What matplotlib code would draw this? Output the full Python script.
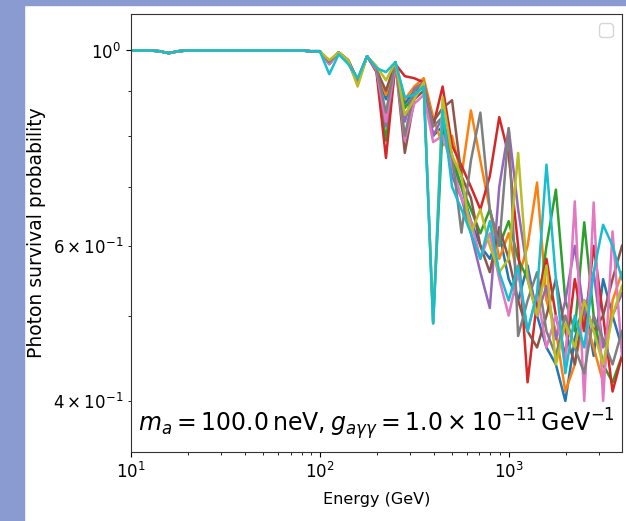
import matplotlib.pyplot as plt
from matplotlib.patches import Rectangle

# energy grid (GeV), 20 points per decade
energy = [10.0, 11.22, 12.59, 14.13, 15.85, 17.78, 19.95, 22.39, 25.12, 28.18,
          31.62, 35.48, 39.81, 44.67, 50.12, 56.23, 63.10, 70.79, 79.43, 89.13,
          100.0, 112.2, 125.9, 141.3, 158.5, 177.8, 199.5, 223.9, 251.2, 281.8,
          316.2, 354.8, 398.1, 446.7, 501.2, 562.3, 631.0, 707.9, 794.3, 891.3,
          1000, 1122, 1259, 1413, 1585, 1778, 1995, 2239, 2512, 2818,
          3162, 3548, 3981]

# survival probability below ~100 GeV (same for all realisations)
low_energy = [1.0, 1.0, 1.0, 0.998, 0.993, 0.998, 1.0, 1.0, 1.0, 1.0,
              1.0, 1.0, 1.0, 1.0, 1.0, 1.0, 1.0, 1.0, 1.0, 0.998,
              0.998]

# survival probability above ~100 GeV, one list per B-field realisation
real_0 = [0.965, 0.995, 0.97, 0.925, 0.985, 0.95, 0.88, 0.965, 0.87, 0.90, 0.91, 0.80, 0.82, 0.74, 0.70, 0.64,
          0.60, 0.58, 0.62, 0.55, 0.52, 0.57, 0.50, 0.46, 0.44, 0.40, 0.47, 0.52, 0.45, 0.55, 0.50, 0.46]
real_1 = [0.97, 0.995, 0.975, 0.925, 0.985, 0.955, 0.89, 0.97, 0.88, 0.91, 0.93, 0.84, 0.78, 0.80, 0.72, 0.855,
          0.75, 0.66, 0.58, 0.62, 0.55, 0.60, 0.708, 0.52, 0.48, 0.41, 0.44, 0.50, 0.46, 0.42, 0.52, 0.56]
real_2 = [0.965, 0.995, 0.97, 0.92, 0.985, 0.95, 0.79, 0.96, 0.86, 0.89, 0.91, 0.49, 0.82, 0.76, 0.70, 0.66,
          0.62, 0.66, 0.60, 0.64, 0.58, 0.55, 0.50, 0.60, 0.695, 0.52, 0.48, 0.638, 0.50, 0.44, 0.42, 0.45]
real_3 = [0.97, 0.995, 0.97, 0.925, 0.985, 0.945, 0.755, 0.965, 0.935, 0.93, 0.92, 0.82, 0.91, 0.78, 0.74, 0.70,
          0.66, 0.72, 0.84, 0.76, 0.60, 0.42, 0.52, 0.58, 0.50, 0.45, 0.55, 0.48, 0.60, 0.50, 0.41, 0.45]
real_4 = [0.965, 0.995, 0.97, 0.92, 0.985, 0.95, 0.82, 0.965, 0.83, 0.905, 0.92, 0.80, 0.84, 0.72, 0.68, 0.62,
          0.56, 0.51, 0.70, 0.816, 0.66, 0.56, 0.50, 0.54, 0.47, 0.52, 0.60, 0.50, 0.56, 0.46, 0.50, 0.53]
real_5 = [0.97, 0.995, 0.975, 0.925, 0.985, 0.95, 0.90, 0.97, 0.765, 0.88, 0.90, 0.83, 0.86, 0.878, 0.72, 0.68,
          0.60, 0.56, 0.63, 0.58, 0.52, 0.48, 0.46, 0.50, 0.55, 0.48, 0.44, 0.52, 0.48, 0.50, 0.55, 0.60]
real_6 = [0.965, 0.995, 0.97, 0.915, 0.985, 0.95, 0.83, 0.965, 0.79, 0.87, 0.89, 0.787, 0.80, 0.74, 0.68, 0.64,
          0.58, 0.62, 0.55, 0.50, 0.56, 0.48, 0.53, 0.46, 0.50, 0.44, 0.674, 0.40, 0.672, 0.40, 0.623, 0.45]
real_7 = [0.97, 0.995, 0.975, 0.925, 0.985, 0.955, 0.85, 0.97, 0.80, 0.90, 0.92, 0.82, 0.84, 0.76, 0.621, 0.75,
          0.85, 0.66, 0.60, 0.816, 0.474, 0.52, 0.56, 0.48, 0.45, 0.50, 0.46, 0.43, 0.50, 0.47, 0.44, 0.48]
real_8 = [0.975, 0.995, 0.975, 0.91, 0.985, 0.96, 0.925, 0.97, 0.845, 0.88, 0.92, 0.49, 0.885, 0.76, 0.72, 0.62,
          0.66, 0.60, 0.56, 0.58, 0.765, 0.55, 0.50, 0.57, 0.44, 0.49, 0.46, 0.52, 0.48, 0.44, 0.50, 0.54]
real_9 = [0.94, 0.99, 0.965, 0.93, 0.985, 0.955, 0.945, 0.97, 0.885, 0.89, 0.91, 0.49, 0.855, 0.70, 0.66, 0.62,
          0.58, 0.64, 0.56, 0.52, 0.57, 0.48, 0.53, 0.742, 0.55, 0.43, 0.50, 0.46, 0.56, 0.634, 0.60, 0.55]

realisations = [real_0, real_1, real_2, real_3, real_4, real_5, real_6, real_7, real_8, real_9]

fig = plt.figure(figsize=(6.26, 5.21), dpi=100)

# blue frame of the screenshot
frame_col = '#8a9bd1'
fig.patches.append(Rectangle((0, 0), 24 / 626, 1, transform=fig.transFigure,
                             color=frame_col, zorder=-1))
fig.patches.append(Rectangle((0, 1 - 5 / 521), 1, 5 / 521, transform=fig.transFigure,
                             color=frame_col, zorder=-1))

ax = fig.add_axes([131 / 626, 69 / 521, 491 / 626, 438 / 521])

for vals in realisations:
    ax.plot(energy, low_energy + vals, lw=1.8)

ax.set_xscale('log')
ax.set_yscale('log')
ax.set_xlim(10, 3981)
ax.set_ylim(0.35, 1.10)

ax.set_xlabel('Energy (GeV)', fontsize=11.5)
ax.set_ylabel('Photon survival probability', fontsize=13.5)
ax.xaxis.set_label_coords(0.5, -0.092)
ax.yaxis.set_label_coords(-0.173, 0.5)
ax.tick_params(which='both', labelsize=12)

for s in ax.spines.values():
    s.set_color('#333333')

ax.text(0.014, 0.046,
        r'$m_a = 100.0\,\mathrm{neV}, g_{a\gamma\gamma} = 1.0 \times 10^{-11}\,\mathrm{GeV}^{-1}$',
        transform=ax.transAxes, fontsize=17, va='baseline', ha='left')

ax.legend(handles=[], loc='upper right', fontsize=13)

fig.savefig('out.png', dpi=100)
